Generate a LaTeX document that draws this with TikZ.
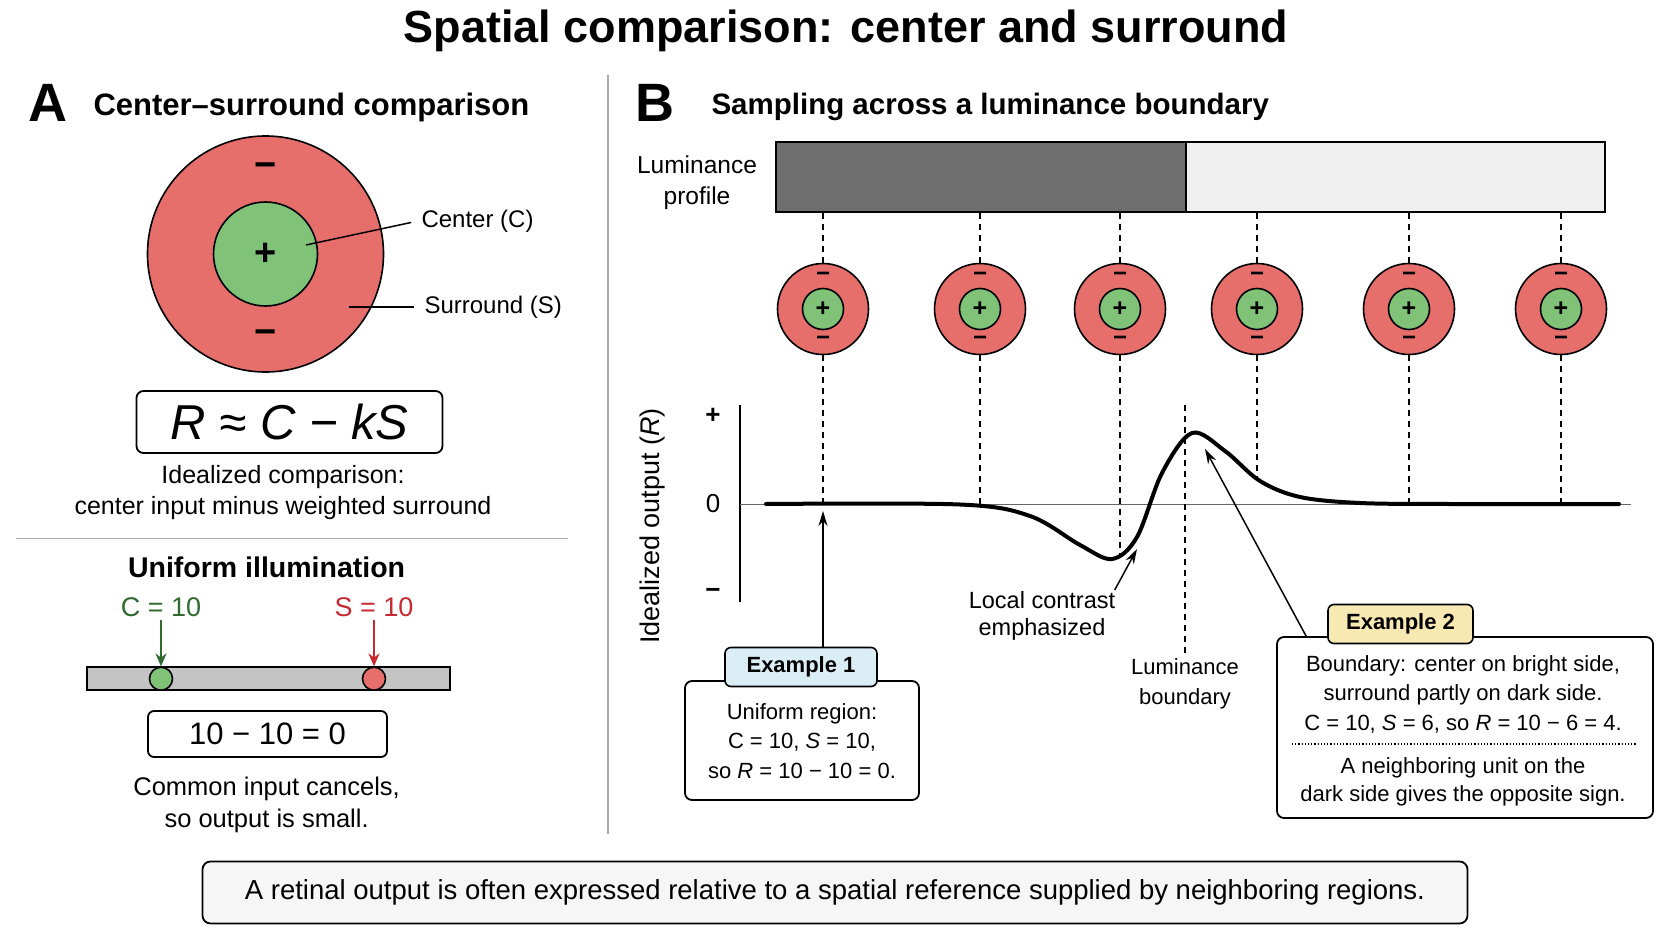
\documentclass[tikz,border=0pt]{standalone}
\usepackage{fontspec}
\setmainfont{Liberation Sans}
\usetikzlibrary{arrows.meta,positioning}
\definecolor{surrred}{HTML}{E66F6B}
\definecolor{centgreen}{HTML}{80C277}
\definecolor{cgreen}{HTML}{2F6B2F}
\definecolor{sred}{HTML}{C62A30}
\definecolor{lumdark}{HTML}{6E6E6E}
\definecolor{lumlight}{HTML}{EFEFEF}
\definecolor{tabblue}{HTML}{DCEEF5}
\definecolor{tabyellow}{HTML}{F8E8B2}
\definecolor{notefill}{HTML}{F6F6F6}
\definecolor{rulegray}{HTML}{AAAAAA}
\definecolor{bargray}{HTML}{C4C4C4}
\begin{document}
\begin{tikzpicture}[
   x=1pt,y=-1pt,
   titletext/.style={font=\bfseries\fontsize{45}{50}\selectfont},
   paneltag/.style={font=\bfseries\fontsize{54}{60}\selectfont},
   headtext/.style={anchor=west,font=\bfseries\fontsize{31}{36}\selectfont},
   bodytext/.style={align=center,font=\fontsize{24}{31}\selectfont},
   boxtext/.style={align=center,font=\fontsize{22}{29.5}\selectfont},
   surr/.style={circle,draw,line width=1.6pt,fill=surrred,inner sep=0pt},
   cent/.style={circle,draw,line width=1.6pt,fill=centgreen,inner sep=0pt},
   sign/.style={font=\bfseries\fontsize{#1}{#1}\selectfont,inner sep=0pt},
   framed/.style={draw,rounded corners=7pt,line width=1.8pt,fill=white,inner sep=0pt},
   tabbox/.style={draw,rounded corners=6pt,line width=1.6pt,inner sep=0pt,minimum height=39pt,
     font=\bfseries\fontsize{22}{26}\selectfont},
   guide/.style={dash pattern=on 6pt off 5pt,line width=1.2pt},
   ptr/.style={line width=1.5pt,-{Stealth[length=15pt,width=9pt]}},
   divider/.style={rulegray,line width=1.5pt}
 ]
  \useasboundingbox (0,0) rectangle (1672,941);
  \node[titletext] (title) at (846,31) {Spatial comparison: center and surround};

  % panel A
  \node[paneltag] (tagA) at (48,103) {A};
  \node[headtext] (headA) at (90,107) {Center–surround comparison};

  \node[surr,minimum size=236pt] (surround) at (265.5,254) {};
  \node[cent,minimum size=104pt] (center) at (265.5,254) {};
  \node[sign=38] (cplus) at (265.5,254) {+};
  \node[sign=38] (sminus1) at (265.5,170) {−};
  \node[sign=38] (sminus2) at (265.5,337) {−};
  \node[bodytext,anchor=west] (lblC) at (418,221) {Center (C)};
  \node[bodytext,anchor=west] (lblS) at (421,307) {Surround (S)};
  \coordinate (cpt) at (306,245);
  \coordinate (spt) at (349,307);
  \draw[line width=1.5pt,shorten >=7pt] (cpt) -- (lblC.west);
  \draw[line width=1.5pt,shorten >=7pt] (spt) -- (lblS.west);

  \node[framed,minimum width=306pt,minimum height=62pt,font=\itshape\fontsize{49}{52}\selectfont]
    (formula) at (289.5,422) {R ≈ C − kS};
  \node[bodytext,font=\fontsize{25}{31}\selectfont] (formdesc) at (283,493) {Idealized comparison:\\center input minus weighted surround};

  \draw[divider] (16,538.5) -- (568,538.5);

  \node[font=\bfseries\fontsize{28.5}{32}\selectfont] (uniform) at (266.6,567) {Uniform illumination};
  \node[bodytext,font=\fontsize{27}{31}\selectfont,text=cgreen] (valC) at (161,607) {C = 10};
  \node[bodytext,font=\fontsize{27}{31}\selectfont,text=sred] (valS) at (374,607) {S = 10};
  \node[draw,line width=1.6pt,fill=bargray,minimum width=363pt,minimum height=23pt,inner sep=0pt]
    (field) at (268.7,678.7) {};
  \node[cent,minimum size=23pt] (dotC) at (161,678.7) {};
  \node[surr,minimum size=23pt] (dotS) at (374,678.7) {};
  \draw[line width=2pt,cgreen,-{Stealth[length=13pt,width=11pt]}] (valC.south) -- (dotC.north);
  \draw[line width=2pt,sred,-{Stealth[length=13pt,width=11pt]}] (valS.south) -- (dotS.north);
  \node[framed,rounded corners=6pt,minimum width=239pt,minimum height=46pt,font=\fontsize{31}{34}\selectfont]
    (calc) at (267.5,734) {10 − 10 = 0};
  \node[bodytext,font=\fontsize{25.5}{32}\selectfont] (calcdesc) at (266.6,805) {Common input cancels,\\so output is small.};

  \draw[divider] (608,75) -- (608,834);

  % panel B
  \node[paneltag] (tagB) at (655,103) {B};
  \node[headtext,font=\bfseries\fontsize{29.5}{36}\selectfont] (headB) at (708,107) {Sampling across a luminance boundary};

  \node[draw,line width=1.8pt,fill=lumdark,minimum width=410pt,minimum height=70pt,inner sep=0pt,anchor=north west]
    (dark) at (775,141) {};
  \node[draw,line width=1.8pt,fill=lumlight,minimum width=419pt,minimum height=70pt,inner sep=0pt,anchor=north west]
    (light) at (1185,141) {};
  \node[boxtext,font=\fontsize{24.5}{31}\selectfont] (lumlbl) at (697,183) {Luminance\\profile};

  \foreach \x/\yc [count=\i] in {823/504,980/505,1120/557,1257/481,1409/504,1561/504} {
    \node[surr,minimum size=91pt] (rf\i) at (\x,309) {};
    \node[cent,minimum size=41pt] (rc\i) at (\x,309) {};
    \node[sign=25] at (\x,309) {+};
    \node[sign=24] at (\x,277) {−};
    \node[sign=24] at (\x,341) {−};
    \coordinate (cv\i) at (\x,\yc);
    \draw[guide] (rf\i.north) -- (rf\i.north |- dark.south);
    \draw[guide] (rf\i.south) -- (cv\i);
  }

  % output axis
  \coordinate (ytop) at (740,405);
  \coordinate (ybot) at (740,602);
  \coordinate (zl) at (740,504);
  \coordinate (zr) at (1631,504);
  \draw[line width=1.5pt] (ytop) -- (ybot);
  \draw[black!60,line width=1pt] (zl) -- (zr);
  \node[sign=26] (yplus) at (713,416) {+};
  \node[font=\fontsize{26}{28}\selectfont] (yzero) at (713,504) {0};
  \node[sign=26] (yminus) at (713,593) {−};
  \node[rotate=90,font=\fontsize{27}{28}\selectfont] (ylbl) at (653,526) {Idealized output (\textit{R})};

  \draw[line width=4pt,line cap=round] plot[smooth,tension=0.55] coordinates {
    (766,504) (960,504.5) (1030,516) (1080,545) (1112,559) (1137,537) (1162,473) (1192,433)
    (1225,451) (1260,481) (1300,497) (1360,503) (1450,504) (1619,504)};

  % boundary marker
  \coordinate (bndtop) at (1185,405);
  \node[boxtext] (bndlbl) at (1185,684) {Luminance\\boundary};
  \draw[guide] (bndtop) -- (bndlbl.north);

  \node[boxtext,font=\fontsize{23.5}{27}\selectfont] (lclbl) at (1042,616) {Local contrast\\emphasized};
  \coordinate (lctip) at (1137,549);
  \draw[ptr] ([xshift=-4pt,yshift=-2pt]lclbl.north east) -- (lctip);

  % example 1
  \node[framed,minimum width=234pt,minimum height=119pt] (ex1) at (802,740.5) {};
  \node[boxtext] (ex1txt) at (802,741) {Uniform region:\\C = 10, \textit{S} = 10,\\so \textit{R} = 10 − 10 = 0.};
  \node[tabbox,fill=tabblue,minimum width=152pt] (ex1tab) at (801,667) {Example 1};
  \coordinate (ex1tip) at (823,511);
  \draw[ptr] (ex1tip |- ex1tab.north) -- (ex1tip);

  % example 2
  \node[framed,minimum width=376pt,minimum height=181pt] (ex2) at (1465,727.5) {};
  \node[boxtext] (ex2top) at (1463,694) {Boundary: center on bright side,\\surround partly on dark side.\\C = 10, \textit{S} = 6, so \textit{R} = 10 − 6 = 4.};
  \draw[dotted,line width=1.2pt] (1292,744) -- (1636,744);
  \node[boxtext,font=\fontsize{22}{28.5}\selectfont] (ex2bot) at (1463,782) {A neighboring unit on the\\dark side gives the opposite sign.};
  \node[tabbox,fill=tabyellow,minimum width=145pt] (ex2tab) at (1400.5,624) {Example 2};
  \coordinate (ex2tip) at (1205,449);
  \draw[ptr] ([xshift=30pt]ex2.north west) -- (ex2tip);

  % take-home
  \node[framed,fill=notefill,rounded corners=8pt,minimum width=1265pt,minimum height=62pt,
    font=\fontsize{27.5}{30}\selectfont] (takehome) at (835,892.5)
    {A retinal output is often expressed relative to a spatial reference supplied by neighboring regions.};
 \end{tikzpicture}
\end{document}
